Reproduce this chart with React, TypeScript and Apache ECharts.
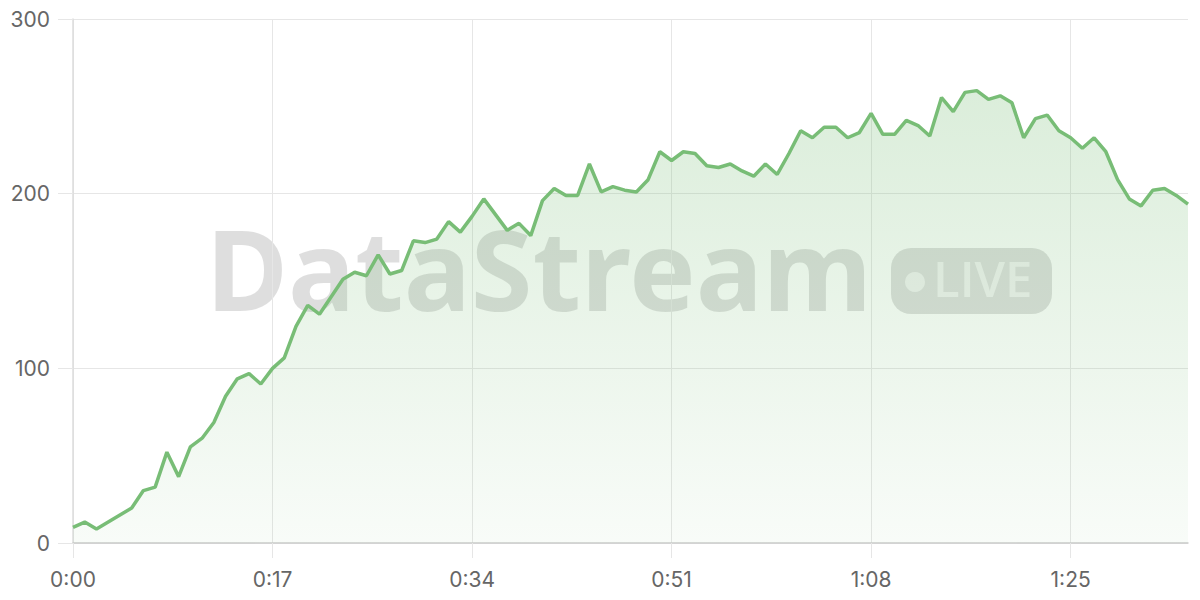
import React, { useEffect, useRef } from "react";
import * as echarts from "echarts";

const seconds: number[] = Array.from({ length: 96 }, (_, i) => i);
const categories: string[] = seconds.map(
  (s) => `${Math.floor(s / 60)}:${String(s % 60).padStart(2, "0")}`
);

const viewers: number[] = [
  9, 12, 8, 12, 16, 20, 30, 32, 52, 38,
  55, 60, 69, 84, 94, 97, 91, 100, 106, 124,
  136, 131, 141, 151, 155, 153, 165, 154, 156, 173,
  172, 174, 184, 178, 187, 197, 188, 179, 183, 176,
  196, 203, 199, 199, 217, 201, 204, 202, 201, 208,
  224, 219, 224, 223, 216, 215, 217, 213, 210, 217,
  211, 223, 236, 232, 238, 238, 232, 235, 246, 234,
  234, 242, 239, 233, 255, 247, 258, 259, 254, 256,
  252, 232, 243, 245, 236, 232, 226, 232, 224, 208,
  197, 193, 202, 203, 199, 194,
];

const yTicks = { min: 0, max: 300, interval: 100 };
const watermarkText = "DataStream";
const badgeText = "LIVE";

export default function App() {
  const ref = useRef<HTMLDivElement>(null);
  useEffect(() => {
    if (!ref.current) return;
    const chart = echarts.init(ref.current, null, { renderer: "svg" });
    const font = "Inter, 'Noto Sans', sans-serif";
    chart.setOption({
      animation: false,
      grid: { left: 73, right: 12, top: 19, bottom: 57, containLabel: false },
      graphic: [
        {
          type: "text",
          x: 206,
          y: 211,
          z: 0,
          silent: true,
          style: {
            text: watermarkText,
            font: "700 112px 'Noto Sans', sans-serif",
            fill: "rgba(0,0,0,0.13)",
            verticalAlign: "top",
            align: "left",
          },
        },
        {
          type: "rect",
          shape: { x: 891, y: 248, width: 161, height: 66, r: 20 },
          z: 0,
          silent: true,
          style: { fill: "rgba(0,0,0,0.13)" },
        },
        {
          type: "circle",
          shape: { cx: 915, cy: 282, r: 10 },
          z: 0,
          silent: true,
          style: { fill: "rgba(255,255,255,0.6)" },
        },
        {
          type: "text",
          x: 933,
          y: 253,
          z: 0,
          silent: true,
          style: {
            text: badgeText,
            font: "600 49px 'Open Sans', 'Noto Sans', sans-serif",
            fill: "rgba(255,255,255,0.6)",
            verticalAlign: "top",
            align: "left",
          },
        },
      ],
      xAxis: {
        type: "category",
        data: categories,
        boundaryGap: false,
        axisLine: { lineStyle: { color: "#cccccc", width: 1.5 } },
        axisTick: { show: true, interval: 16, length: 15, lineStyle: { color: "#e6e6e6" } },
        axisLabel: { interval: 16, margin: 26, color: "#666", fontSize: 21, fontFamily: font },
        splitLine: { show: true, interval: 16, lineStyle: { color: "#e6e6e6", width: 1 } },
      },
      yAxis: {
        type: "value",
        min: yTicks.min,
        max: yTicks.max,
        interval: yTicks.interval,
        axisLine: { show: true, lineStyle: { color: "#dddddd", width: 1.5 } },
        axisTick: { show: true, length: 15, lineStyle: { color: "#e6e6e6" } },
        axisLabel: { margin: 23, color: "#666", fontSize: 21, fontFamily: font },
        splitLine: { show: true, lineStyle: { color: "#e6e6e6", width: 1 } },
      },
      series: [
        {
          type: "line",
          data: viewers,
          symbol: "none",
          smooth: false,
          z: 3,
          lineStyle: { color: "#78bd76", width: 3.5 },
          areaStyle: {
            color: new echarts.graphic.LinearGradient(0, 0, 0, 1, [
              { offset: 0, color: "rgba(120,189,118,0.38)" },
              { offset: 1, color: "rgba(120,189,118,0.07)" },
            ]),
          },
        },
      ],
    });
    return () => chart.dispose();
  }, []);
  return <div ref={ref} style={{ width: 1200, height: 600, position: "absolute", left: 0, top: 0 }} />;
}
